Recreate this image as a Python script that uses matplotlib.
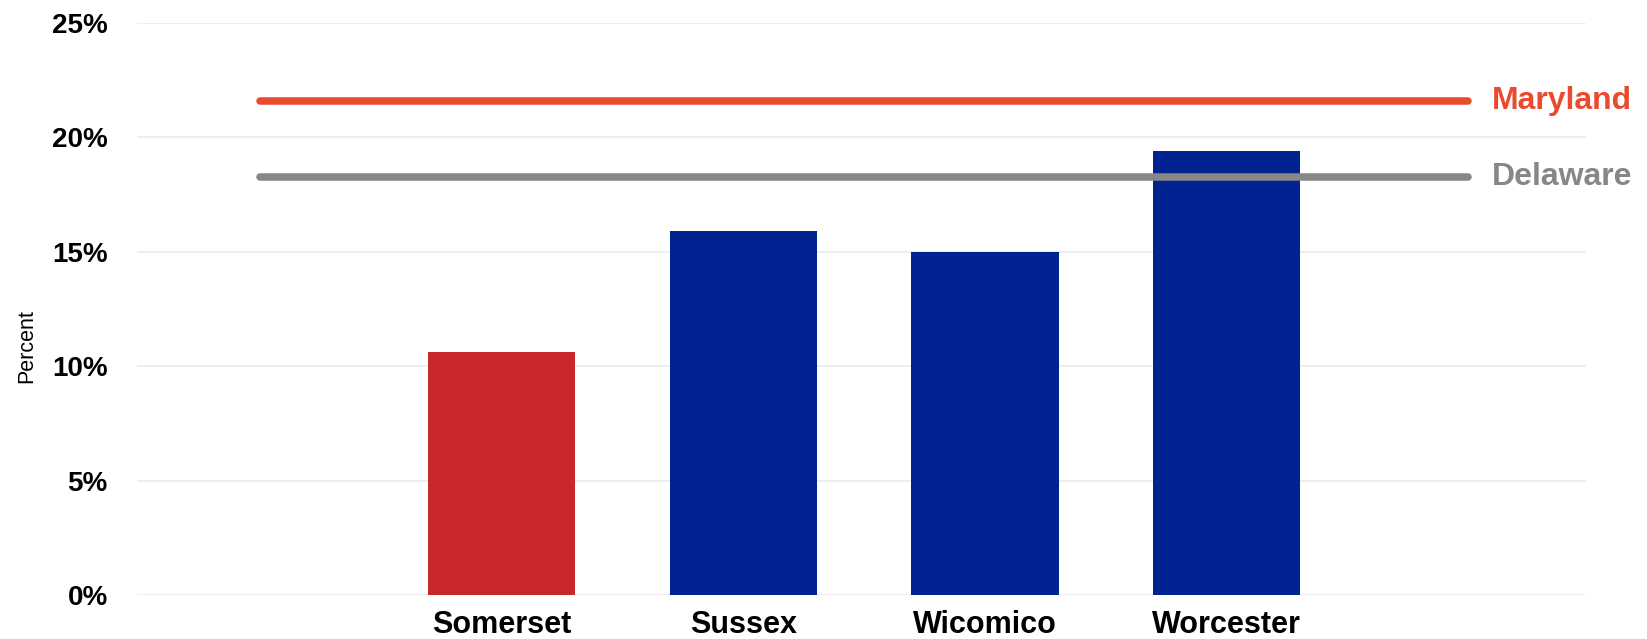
import matplotlib
matplotlib.use("Agg")
import matplotlib.pyplot as plt

categories = ["Somerset", "Sussex", "Wicomico", "Worcester"]
values = [10.6, 15.9, 15.0, 19.4]
bar_colors = ["#C8282B", "#012391", "#012391", "#012391"]
ref_names = ["Maryland", "Delaware"]
ref_values = [21.6, 18.25]
ref_colors = ["#EA4A2E", "#878787"]
yticks = [0, 5, 10, 15, 20, 25]
ytick_labels = ["0%", "5%", "10%", "15%", "20%", "25%"]

plt.rcParams["font.family"] = ["Liberation Sans", "DejaVu Sans"]

fig = plt.figure(figsize=(16.47, 6.39), dpi=100)
ax = fig.add_axes([0.0832, 0.069, 0.880, 0.895])

x = list(range(len(categories)))
ax.bar(x, values, width=0.61, color=bar_colors, zorder=2)

for name, val, col in zip(ref_names, ref_values, ref_colors):
    ax.plot([-1, 4], [val, val], color=col, lw=5.4, solid_capstyle="round", zorder=3)
    ax.text(4.1, val, name, color=col, fontsize=23, fontweight="bold",
            va="center", ha="left", clip_on=False)

ax.set_xlim(-1.51, 4.49)
ax.set_ylim(0, 25)
ax.set_yticks(yticks)
ax.set_yticklabels(ytick_labels, fontsize=20, fontweight="bold")
ax.set_xticks(x)
ax.set_xticklabels(categories, fontsize=22, fontweight="bold")
ax.tick_params(axis="y", length=0, pad=21)
ax.tick_params(axis="x", length=0, pad=11)
ax.grid(axis="y", color="#EBEBEB", lw=1.2, zorder=0)
for s in ax.spines.values():
    s.set_visible(False)
ax.set_ylabel("Percent", fontsize=15.5)
ax.yaxis.set_label_coords(-0.069, 0.435)

fig.savefig("out.png", dpi=100)
